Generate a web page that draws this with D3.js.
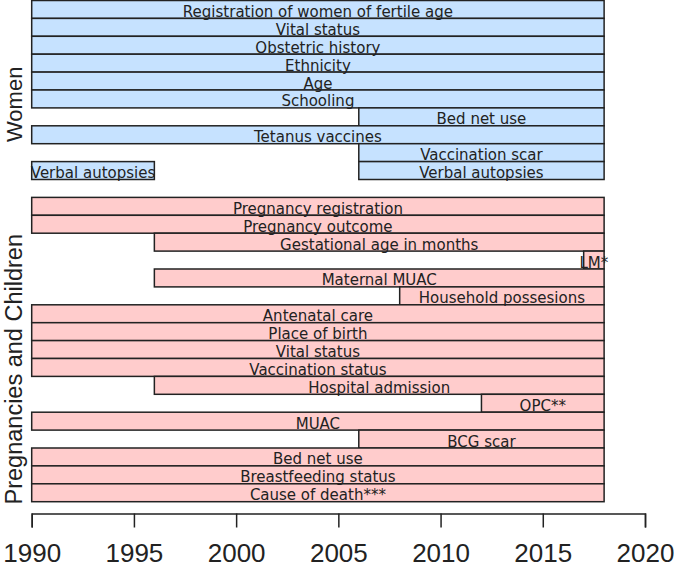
<!DOCTYPE html>
<html>
<head>
<meta charset="utf-8">
<script src="https://cdn.jsdelivr.net/npm/d3@7"></script>
<style>
  body { margin: 0; background: #fff; }
  svg { display: block; }
</style>
</head>
<body>
<svg width="674" height="569"></svg>
<script>
// data collected per variable: label, first year, last year, row
var womenLabels = ["Registration of women of fertile age", "Vital status", "Obstetric history", "Ethnicity", "Age", "Schooling", "Bed net use", "Tetanus vaccines", "Vaccination scar", "Verbal autopsies", "Verbal autopsies"];
var womenStart = [1990, 1990, 1990, 1990, 1990, 1990, 2006, 1990, 2006, 2006, 1990];
var womenEnd = [2018, 2018, 2018, 2018, 2018, 2018, 2018, 2018, 2018, 2018, 1996];
var womenRow = [0, 1, 2, 3, 4, 5, 6, 7, 8, 9, 9];

var childLabels = ["Pregnancy registration", "Pregnancy outcome", "Gestational age in months", "LM*", "Maternal MUAC", "Household possesions", "Antenatal care", "Place of birth", "Vital status", "Vaccination status", "Hospital admission", "OPC**", "MUAC", "BCG scar", "Bed net use", "Breastfeeding status", "Cause of death***"];
var childStart = [1990, 1990, 1996, 2017, 1996, 2008, 1990, 1990, 1990, 1990, 1996, 2012, 1990, 2006, 1990, 1990, 1990];
var childEnd = [2018, 2018, 2018, 2018, 2018, 2018, 2018, 2018, 2018, 2018, 2018, 2018, 2018, 2018, 2018, 2018, 2018];
var childRow = [11, 12, 13, 14, 15, 16, 17, 18, 19, 20, 21, 22, 23, 24, 25, 26, 27];

var yearTicks = [1990, 1995, 2000, 2005, 2010, 2015, 2020];
var groupNames = ["Women", "Pregnancies and Children"];

var svg = d3.select("svg");

var x = d3.scaleLinear().domain([1990, 2020]).range([31.7, 645]);
var y = d3.scaleLinear().domain([0, 28]).range([0.5, 501.7]);

function bars(labels, start, end, row, fill) {
  var data = labels.map(function(d, i) {
    return {name: d, s: start[i], e: end[i], r: row[i]};
  });
  var g = svg.append("g");
  g.selectAll("rect")
    .data(data)
    .enter()
    .append("rect")
    .attr("x", function(d) { return x(d.s); })
    .attr("y", function(d) { return y(d.r); })
    .attr("width", function(d) { return x(d.e) - x(d.s); })
    .attr("height", function(d) { return y(d.r + 1) - y(d.r); })
    .attr("fill", fill)
    .attr("stroke", "#222")
    .attr("stroke-width", 1.5);
  g.selectAll("text")
    .data(data)
    .enter()
    .append("text")
    .attr("x", function(d) { return x((d.s + d.e) / 2); })
    .attr("y", function(d) { return y(d.r + 1) - 1.5; })
    .attr("text-anchor", "middle")
    .style("font-family", "'DejaVu Sans', Verdana, sans-serif")
    .style("font-size", "15px")
    .attr("fill", "#222")
    .text(function(d) { return d.name; });
}

bars(womenLabels, womenStart, womenEnd, womenRow, "#c6e2ff");
bars(childLabels, childStart, childEnd, childRow, "#ffcccc");

// group labels on the left
var groupCenter = [y(5.8), y(20.6)];
var groupSize = [22, 23.5];
svg.selectAll(".grp")
  .data(groupNames)
  .enter()
  .append("text")
  .attr("class", "grp")
  .attr("transform", function(d, i) { return "translate(22," + groupCenter[i] + ") rotate(-90)"; })
  .attr("text-anchor", "middle")
  .style("font-family", "'Liberation Sans', Arial, sans-serif")
  .style("font-size", function(d, i) { return groupSize[i] + "px"; })
  .attr("fill", "#222")
  .text(function(d) { return d; });

// x axis
var axis = d3.axisBottom(x)
  .tickValues(yearTicks)
  .tickFormat(d3.format("d"))
  .tickSize(14)
  .tickPadding(16);

var ax = svg.append("g")
  .attr("transform", "translate(0,513.5)")
  .call(axis);
ax.select(".domain").attr("stroke", "#222").attr("stroke-width", 1.5);
ax.selectAll(".tick line").attr("stroke", "#222").attr("stroke-width", 1.5);
ax.selectAll(".tick text")
  .attr("fill", "#222")
  .style("font-family", "'Liberation Sans', Arial, sans-serif")
  .style("font-size", "26px");
</script>
</body>
</html>
